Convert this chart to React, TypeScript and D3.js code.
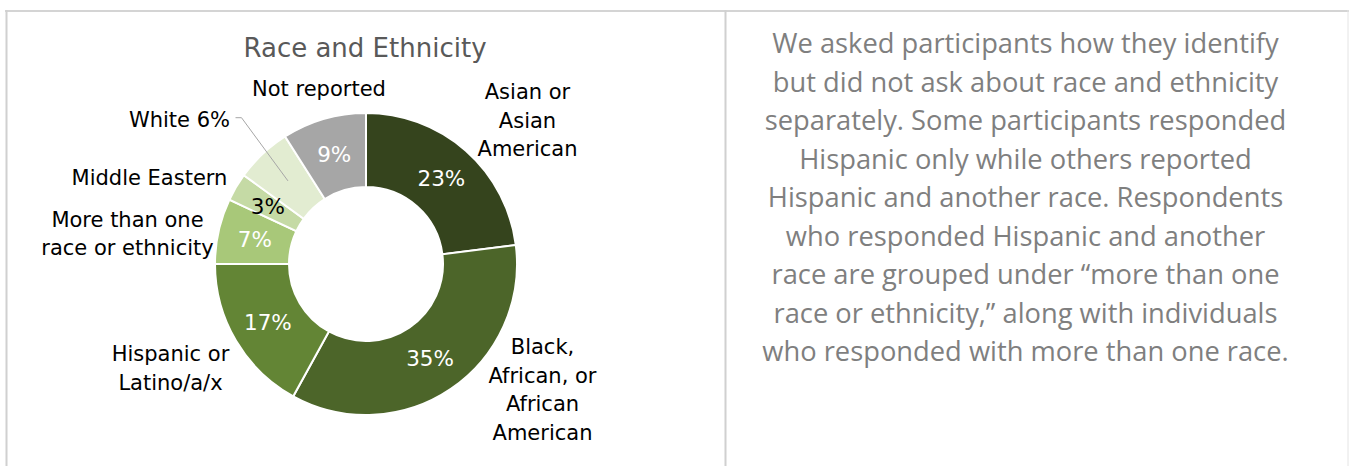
import React from 'react';
import * as d3 from 'd3';

// ---- data ----
const categories = [
  'Asian or Asian American',
  'Black, African, or African American',
  'Hispanic or Latino/a/x',
  'More than one race or ethnicity',
  'Middle Eastern',
  'White',
  'Not reported',
];
const values = [23, 35, 17, 7, 3, 6, 9];
const sliceColors = ['#35441d', '#4c6529', '#638535', '#a8c879', '#c5daa5', '#e2ecd1', '#a6a6a6'];
const pctTextColors = ['#ffffff', '#ffffff', '#ffffff', '#ffffff', '#000000', null, '#ffffff'];
const categoryLabelLines = [
  ['Asian or', 'Asian', 'American'],
  ['Black,', 'African, or', 'African', 'American'],
  ['Hispanic or', 'Latino/a/x'],
  ['More than one', 'race or ethnicity'],
  ['Middle Eastern'],
  ['White 6%'],
  ['Not reported'],
];
const titleText = 'Race and Ethnicity';
const noteLines = [
  'We asked participants how they identify',
  'but did not ask about race and ethnicity',
  'separately. Some participants responded',
  'Hispanic only while others reported',
  'Hispanic and another race. Respondents',
  'who responded Hispanic and another',
  'race are grouped under \u201cmore than one',
  'race or ethnicity,\u201d along with individuals',
  'who responded with more than one race.',
];

// ---- layout (label placement, not data) ----
const labelLayout = [
  { x: 527.5, y: 99, anchor: 'middle' },
  { x: 542.5, y: 354, anchor: 'middle' },
  { x: 170.5, y: 361, anchor: 'middle' },
  { x: 127.5, y: 226.5, anchor: 'middle' },
  { x: 149.5, y: 185, anchor: 'middle' },
  { x: 230, y: 126.7, anchor: 'end' },
  { x: 319, y: 96, anchor: 'middle' },
];

const W = 1349;
const H = 466;
const cx = 366;
const cy = 264;
const rOuter = 151;
const rInner = 77;
const chartFont = '"DejaVu Sans", sans-serif';
const noteFont = '"Open Sans", sans-serif';

export default function App() {
  const pie = d3.pie<number>().sort(null).value((d) => d);
  const arcs = pie(values);
  const arc = d3.arc<d3.PieArcDatum<number>>().innerRadius(rInner).outerRadius(rOuter);
  const lineH = 28.6;

  return (
    <div style={{ position: 'fixed', left: 0, top: 0, width: W, height: H, background: '#fff' }}>
      <svg width={W} height={H} viewBox={`0 0 ${W} ${H}`} style={{ display: 'block' }}>
        <rect x={0} y={0} width={W} height={H} fill="#ffffff" />
        {/* borders */}
        <line x1={5} x2={W} y1={11} y2={11} stroke="#d4d4d4" strokeWidth={2} />
        <line x1={6.5} x2={6.5} y1={10} y2={H} stroke="#d0d0d0" strokeWidth={2} />
        <line x1={725.5} x2={725.5} y1={10} y2={H} stroke="#d0d0d0" strokeWidth={2} />
        <line x1={1348} x2={1348} y1={10} y2={H} stroke="#e4e4e4" strokeWidth={1} />

        {/* title */}
        <text x={365} y={56.7} textAnchor="middle" fontFamily={chartFont} fontSize={26} fill="#595959">
          {titleText}
        </text>

        {/* donut */}
        <g transform={`translate(${cx},${cy})`}>
          {arcs.map((a, i) => (
            <path key={categories[i]} d={arc(a) || ''} fill={sliceColors[i]} stroke="#ffffff" strokeWidth={2} />
          ))}
          {arcs.map((a, i) => {
            const col = pctTextColors[i];
            if (!col) return null;
            const [x, y] = arc.centroid(a);
            return (
              <text key={'p' + i} x={x} y={y} dy="0.36em" textAnchor="middle" fontFamily={chartFont} fontSize={21.5} fill={col}>
                {values[i]}%
              </text>
            );
          })}
        </g>

        {/* leader line for White */}
        {(() => {
          const i = 5;
          const [x, y] = arc.centroid(arcs[i]);
          const lx = labelLayout[i].x + 5.5;
          const ly = labelLayout[i].y - 9;
          return (
            <polyline
              points={`${lx},${ly} ${lx + 6},${ly} ${cx + x},${cy + y}`}
              fill="none"
              stroke="#a6a6a6"
              strokeWidth={1}
            />
          );
        })()}

        {/* category labels */}
        {categoryLabelLines.map((lines, i) => (
          <text
            key={'l' + i}
            x={labelLayout[i].x}
            y={labelLayout[i].y}
            textAnchor={labelLayout[i].anchor as any}
            fontFamily={chartFont}
            fontSize={21}
            fill="#000000"
          >
            {lines.map((ln, j) => (
              <tspan key={j} x={labelLayout[i].x} dy={j === 0 ? 0 : lineH}>
                {ln}
              </tspan>
            ))}
          </text>
        ))}

        {/* note text */}
        <text x={1025.5} y={53} textAnchor="middle" fontFamily={noteFont} fontSize={27.3} fill="#7f7f7f">
          {noteLines.map((ln, j) => (
            <tspan key={j} x={1025.5} dy={j === 0 ? 0 : 38.5}>
              {ln}
            </tspan>
          ))}
        </text>
      </svg>
    </div>
  );
}
